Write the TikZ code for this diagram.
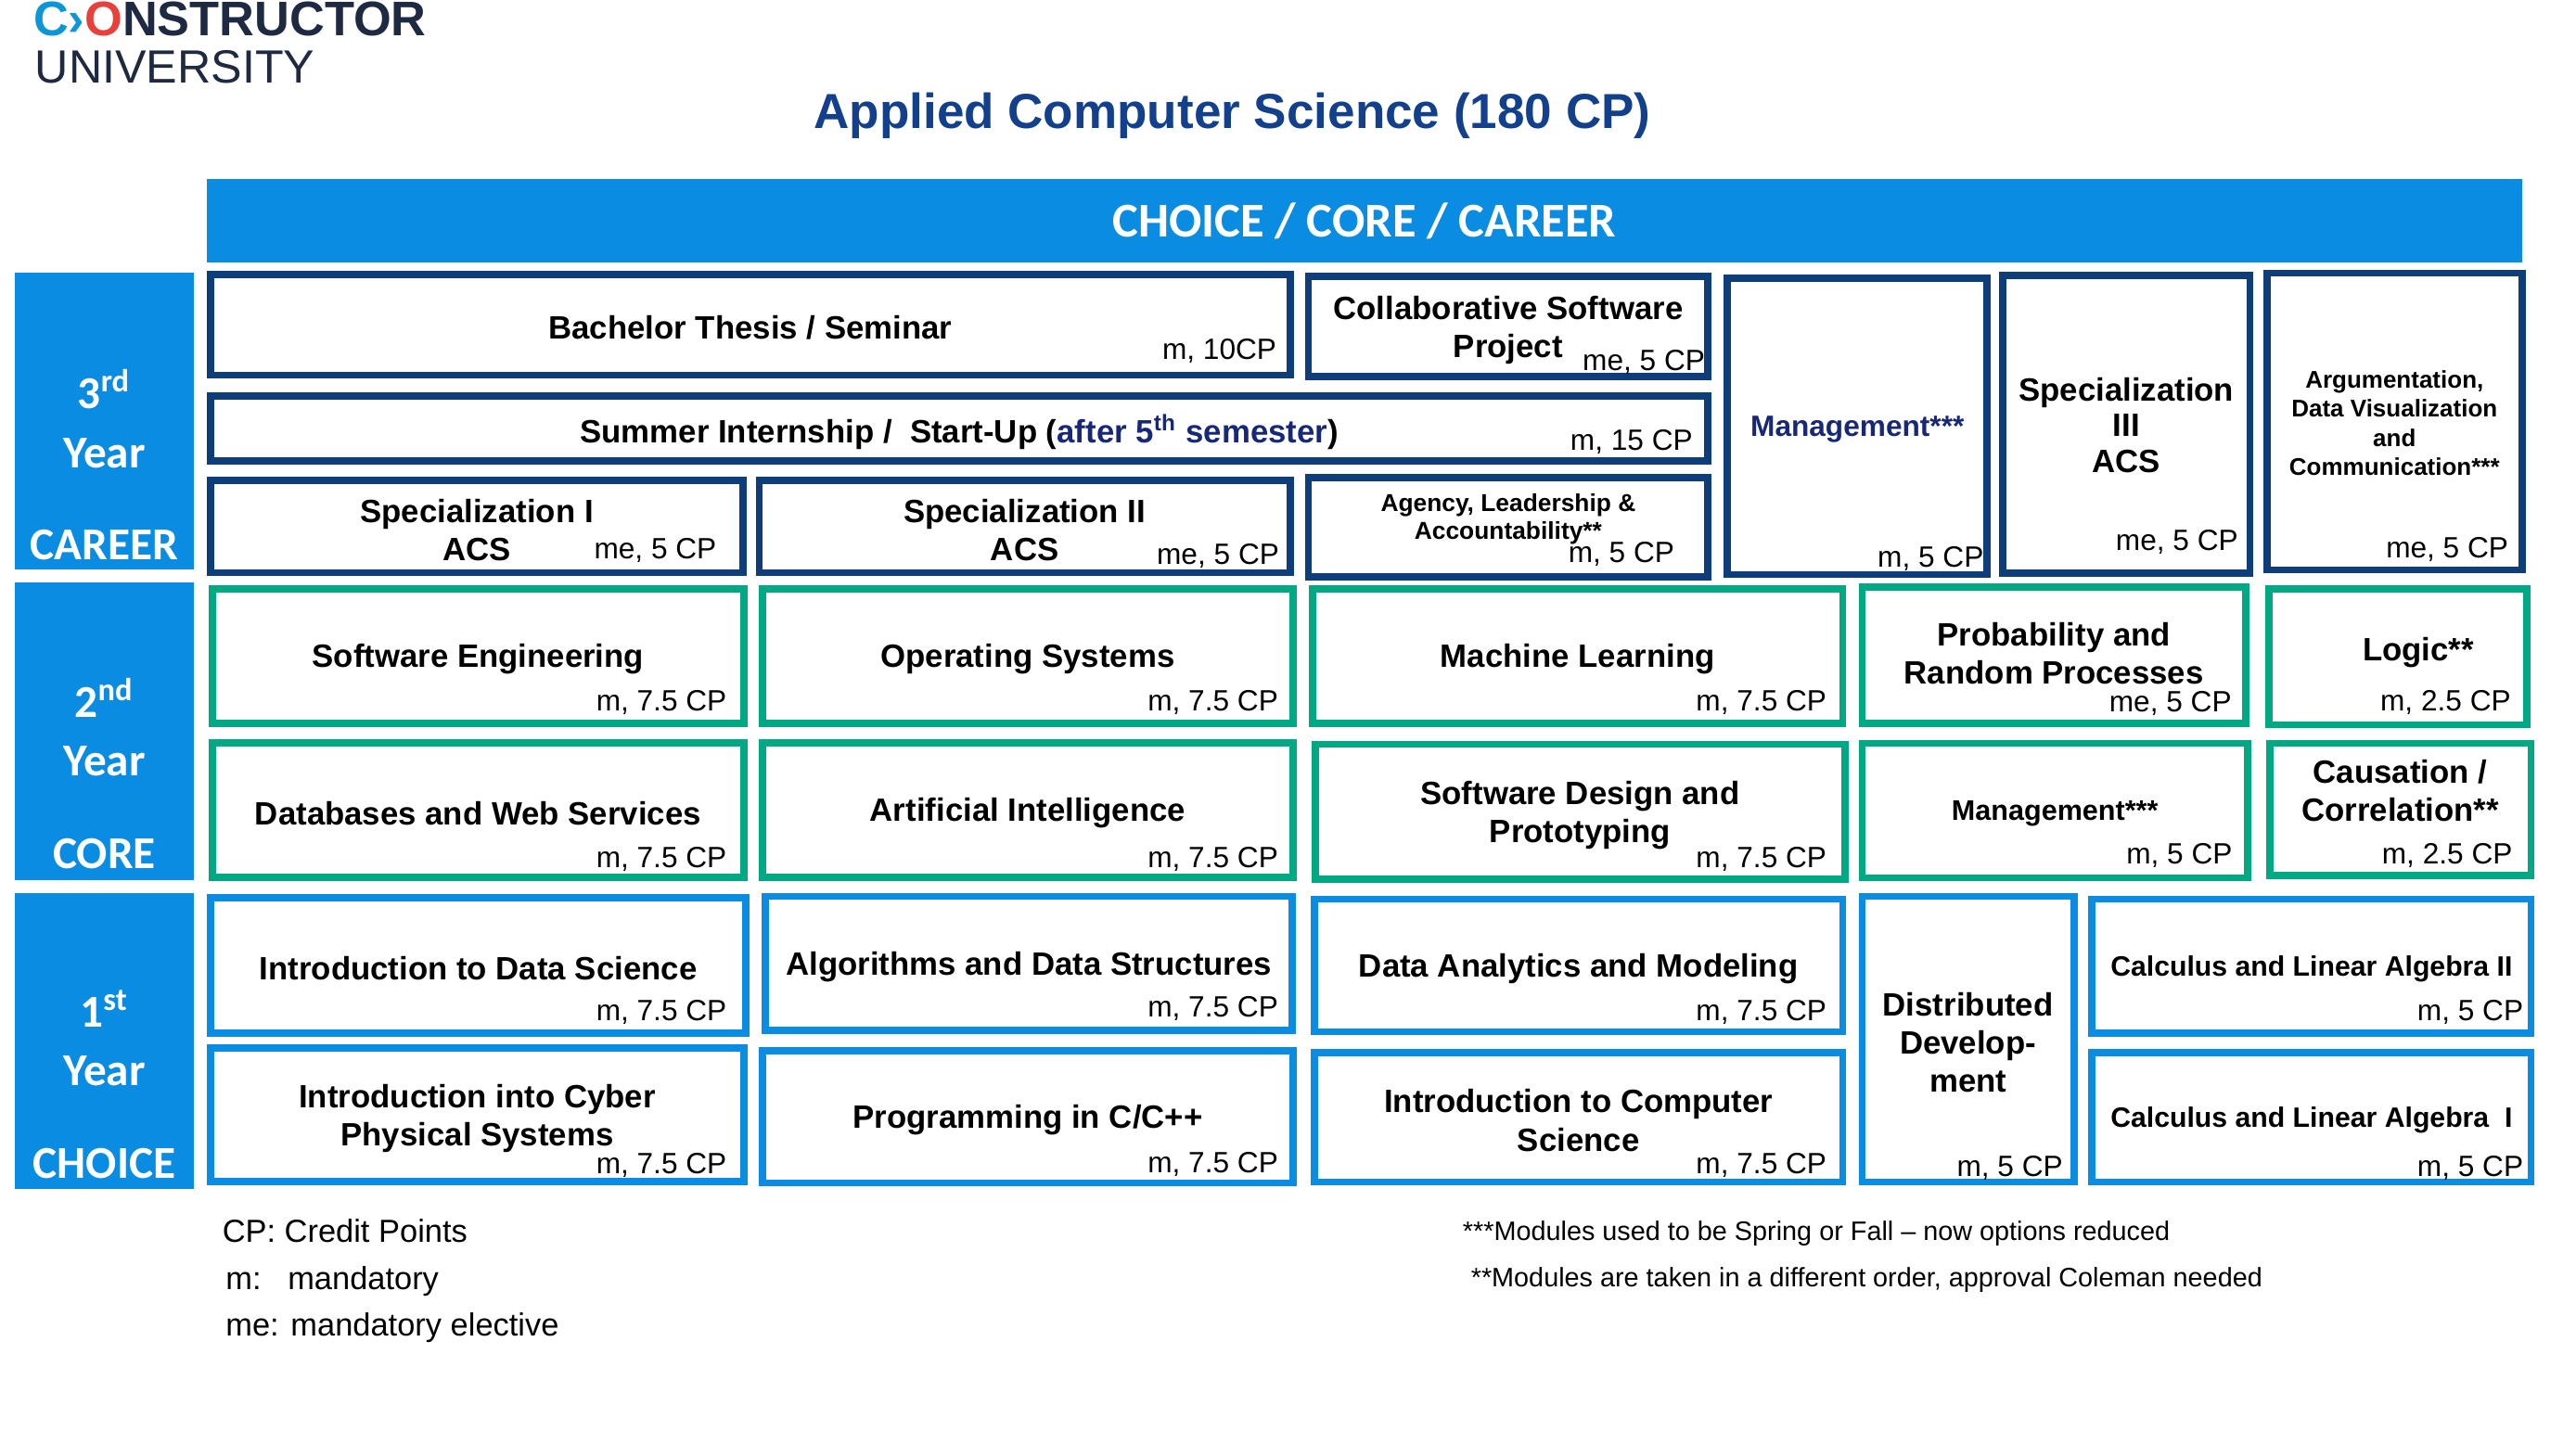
\documentclass[tikz,border=0pt]{standalone}
\usepackage{fontspec}
\setmainfont{Liberation Sans}
\newfontfamily\calfont{Carlito}
\usetikzlibrary{fit}
\definecolor{choiceblue}{RGB}{10,140,226}
\definecolor{coregreen}{RGB}{0,168,132}
\definecolor{careernavy}{RGB}{14,62,122}
\definecolor{titleblue}{RGB}{18,64,140}
\definecolor{textnavy}{RGB}{24,40,120}
\definecolor{logoblue}{RGB}{12,150,214}
\definecolor{logored}{RGB}{230,65,58}
\definecolor{logonavy}{RGB}{30,42,66}
\newcommand{\fsz}[2]{\fontsize{#1}{#2}\selectfont}
\tikzset{
	module/.style={draw,rectangle,line width=2.2pt,inner sep=-1.1pt},
	career/.style={module,draw=careernavy},
	core/.style={module,draw=coregreen},
	choice/.style={module,draw=choiceblue},
	modtxt/.style={inner sep=0pt,yshift=-1pt,align=center,font=\bfseries\fsz{9.9}{11.75}},
	cp/.style={anchor=base east,inner sep=0pt,font=\fsz{9}{10}},
	yearbox/.style={fill=choiceblue,inner sep=0pt},
	yeartxt/.style={anchor=base,inner sep=0pt,text=white,font=\calfont\bfseries\fsz{14}{16}},
	note/.style={anchor=base west,inner sep=0pt}
}
\begin{document}
\begin{tikzpicture}[x=0.017711cm,y=-0.017711cm]
	\useasboundingbox (0,0) rectangle (1568,879.1);
	\node[note,text=logonavy,font=\bfseries\fsz{14.9}{16}] (logo) at (20,21.9) {\textcolor{logoblue}{C›}\textcolor{logored}{O}NSTRUCTOR};
	\node[note,text=logonavy,font=\fsz{14.3}{16}] (uni) at (21,50.7) {UNIVERSITY};
	\node[note,text=titleblue,font=\bfseries\fsz{15.1}{18}] (title) at (495,78.4) {Applied Computer Science (180 CP)};
	\node[yearbox,fit={(126,109) (1535.2,159.7)}] (head) {};
	\node[anchor=base,inner sep=0pt,text=white,font=\calfont\bfseries\fsz{14.9}{17}] (headtxt) at (830.5,144.5) {CHOICE / CORE / CAREER};

	\node[yearbox,fit={(9,166) (118,346.8)}] (y3) {};
	\node[yeartxt] (y3a) at (63.5,249) {3\textsuperscript{rd}};
	\node[yeartxt] (y3b) at (63.5,284.6) {Year};
	\node[yeartxt] (y3c) at (63.5,340.5) {CAREER};
	\node[yearbox,fit={(9,354.5) (118,535.6)}] (y2) {};
	\node[yeartxt] (y2a) at (63.5,437) {2\textsuperscript{nd}};
	\node[yeartxt] (y2b) at (63.5,472.5) {Year};
	\node[yeartxt] (y2c) at (63.5,528.8) {CORE};
	\node[yearbox,fit={(9,543.5) (118,724)}] (y1) {};
	\node[yeartxt] (y1a) at (63.5,625.5) {1\textsuperscript{st}};
	\node[yeartxt] (y1b) at (63.5,661) {Year};
	\node[yeartxt] (y1c) at (63.5,717.4) {CHOICE};

	\node[career,fit={(126,164.8) (787.4,230.5)}] (bt) {};
	\node[modtxt] (bt-t) at (bt) {Bachelor Thesis / Seminar};
	\node[cp] (bt-cp) at (777.4,219) {m, 10CP};
	\node[career,fit={(794.3,166.2) (1041.8,231.5)}] (csp) {};
	\node[modtxt] (csp-t) at (csp) {Collaborative Software\\Project};
	\node[cp] (csp-cp) at (1038.2,225.8) {me, 5 CP};
	\node[career,fit={(126,239) (1041.8,283)}] (si) {};
	\node[modtxt] (si-t) at (si) {Summer Internship /~ Start-Up (\textcolor{textnavy}{after 5\textsuperscript{th} semester})};
	\node[cp] (si-cp) at (1030.7,274.4) {m, 15 CP};
	\node[career,fit={(126,290.4) (454.6,350.8)}] (sp1) {};
	\node[modtxt] (sp1-t) at (sp1) {Specialization I\\ACS};
	\node[cp] (sp1-cp) at (436.5,340) {me, 5 CP};
	\node[career,fit={(460,290.4) (787.4,350.8)}] (sp2) {};
	\node[modtxt] (sp2-t) at (sp2) {Specialization II\\ACS};
	\node[cp] (sp2-cp) at (779,343.4) {me, 5 CP};
	\node[career,fit={(794.3,288.5) (1041.8,353.5)}] (alc) {};
	\node[modtxt,font=\bfseries\fsz{7.5}{8.7}] (alc-t) at ([shift={(0,-7)}]alc.center) {Agency, Leadership \&\\Accountability**};
	\node[cp] (alc-cp) at (1019.6,342.5) {m, 5 CP};
	\node[career,fit={(1049.3,167.1) (1211.8,352)}] (mg3) {};
	\node[modtxt,text=textnavy,font=\bfseries\fsz{9}{11}] (mg3-t) at (mg3) {Management***};
	\node[cp] (mg3-cp) at (1207.8,345.4) {m, 5 CP};
	\node[career,fit={(1216.8,165.6) (1371.7,351)}] (sp3) {};
	\node[modtxt,font=\bfseries\fsz{9.9}{10.9}] (sp3-t) at ([shift={(0,-1.5)}]sp3.center) {Specialization\\III\\ACS};
	\node[cp] (sp3-cp) at (1362.7,335) {me, 5 CP};
	\node[career,fit={(1377.7,164.1) (1537.3,349.1)}] (adc) {};
	\node[modtxt,font=\bfseries\fsz{7.4}{9}] (adc-t) at ([shift={(0,-1)}]adc.center) {Argumentation,\\Data Visualization\\and\\Communication***};
	\node[cp] (adc-cp) at (1527.2,339.7) {me, 5 CP};

	\node[core,fit={(127,356.2) (455,442.6)}] (se) {};
	\node[modtxt] (se-t) at (se) {Software Engineering};
	\node[cp] (se-cp) at (442.7,432.8) {m, 7.5 CP};
	\node[core,fit={(461.8,356.2) (789.4,442.6)}] (os) {};
	\node[modtxt] (os-t) at (os) {Operating Systems};
	\node[cp] (os-cp) at (778.4,432.8) {m, 7.5 CP};
	\node[core,fit={(796.8,356.2) (1123.8,442.6)}] (ml) {};
	\node[modtxt] (ml-t) at (ml) {Machine Learning};
	\node[cp] (ml-cp) at (1112.2,432.8) {m, 7.5 CP};
	\node[core,fit={(1131.3,355.4) (1369.2,442.6)}] (prp) {};
	\node[modtxt] (prp-t) at ([shift={(0,-3)}]prp.center) {Probability and\\Random Processes};
	\node[cp] (prp-cp) at (1358.7,433.5) {me, 5 CP};
	\node[core,fit={(1378.8,356.2) (1540.3,443.4)}] (lo) {};
	\node[modtxt] (lo-t) at ([shift={(12.5,-4.6)}]lo.center) {Logic**};
	\node[cp] (lo-cp) at (1528.7,432.8) {m, 2.5 CP};
	\node[core,fit={(127,450) (455,536.2)}] (dws) {};
	\node[modtxt] (dws-t) at (dws) {Databases and Web Services};
	\node[cp] (dws-cp) at (442.7,528.3) {m, 7.5 CP};
	\node[core,fit={(461.8,450) (789.4,536.2)}] (ai) {};
	\node[modtxt] (ai-t) at (ai) {Artificial Intelligence};
	\node[cp] (ai-cp) at (778.4,528.3) {m, 7.5 CP};
	\node[core,fit={(798.3,451) (1125.3,537.4)}] (sdp) {};
	\node[modtxt] (sdp-t) at (sdp) {Software Design and\\Prototyping};
	\node[cp] (sdp-cp) at (1112.2,528.3) {m, 7.5 CP};
	\node[core,fit={(1131.3,450.4) (1370.3,536.6)}] (mg2) {};
	\node[modtxt,font=\bfseries\fsz{8.7}{10}] (mg2-t) at (mg2) {Management***};
	\node[cp] (mg2-cp) at (1359.2,525.9) {m, 5 CP};
	\node[core,fit={(1379.3,450.4) (1542.8,535)}] (cc) {};
	\node[modtxt] (cc-t) at ([shift={(0,-13.5)}]cc.center) {Causation /\\Correlation**};
	\node[cp] (cc-cp) at (1529.7,525.9) {m, 2.5 CP};

	\node[choice,fit={(126,544.2) (456.2,631.1)}] (ids) {};
	\node[modtxt] (ids-t) at (ids) {Introduction to Data Science};
	\node[cp] (ids-cp) at (442.7,621.4) {m, 7.5 CP};
	\node[choice,fit={(463.7,543.5) (788.9,629.5)}] (ads) {};
	\node[modtxt] (ads-t) at (ads) {Algorithms and Data Structures};
	\node[cp] (ads-cp) at (778.4,619.4) {m, 7.5 CP};
	\node[choice,fit={(797.9,545.2) (1123.8,630.4)}] (dam) {};
	\node[modtxt] (dam-t) at (dam) {Data Analytics and Modeling};
	\node[cp] (dam-cp) at (1112.2,621.4) {m, 7.5 CP};
	\node[choice,fit={(1131.3,543.5) (1264.6,721.8)}] (dd) {};
	\node[modtxt] (dd-t) at (dd) {Distributed\\Develop-\\ment};
	\node[cp] (dd-cp) at (1256,716.1) {m, 5 CP};
	\node[choice,fit={(1271.2,545.2) (1542.8,631)}] (cla2) {};
	\node[modtxt,font=\bfseries\fsz{8.6}{10}] (cla2-t) at (cla2) {Calculus and Linear Algebra II};
	\node[cp] (cla2-cp) at (1536.3,621.4) {m, 5 CP};
	\node[choice,fit={(126,636) (455,721.7)}] (icps) {};
	\node[modtxt] (icps-t) at (icps) {Introduction into Cyber\\Physical Systems};
	\node[cp] (icps-cp) at (442.7,714.4) {m, 7.5 CP};
	\node[choice,fit={(461.8,637.7) (789.4,722.3)}] (pc) {};
	\node[modtxt] (pc-t) at (pc) {Programming in C/C++};
	\node[cp] (pc-cp) at (778.4,713.7) {m, 7.5 CP};
	\node[choice,fit={(797.9,638.5) (1123.8,721.8)}] (ics) {};
	\node[modtxt] (ics-t) at (ics) {Introduction to Computer\\Science};
	\node[cp] (ics-cp) at (1112.2,714.4) {m, 7.5 CP};
	\node[choice,fit={(1271.2,638.5) (1542.8,721.8)}] (cla1) {};
	\node[modtxt,font=\bfseries\fsz{8.6}{10}] (cla1-t) at (cla1) {Calculus and Linear Algebra~ I};
	\node[cp] (cla1-cp) at (1536.3,716.1) {m, 5 CP};

	\node[note,font=\fsz{9.8}{12}] (cpdef) at (135,756.2) {CP: Credit Points};
	\node[note,font=\fsz{9.8}{12}] (mdef) at (137,785.4) {m:\phantom{e} mandatory};
	\node[note,font=\fsz{9.8}{12}] (medef) at (137,813.6) {me: mandatory elective};
	\node[note,font=\fsz{8.2}{10}] (fn3) at (890,755.1) {***Modules used to be Spring or Fall – now options reduced};
	\node[note,font=\fsz{8.2}{10}] (fn2) at (895,783.3) {**Modules are taken in a different order, approval Coleman needed};
\end{tikzpicture}
\end{document}
